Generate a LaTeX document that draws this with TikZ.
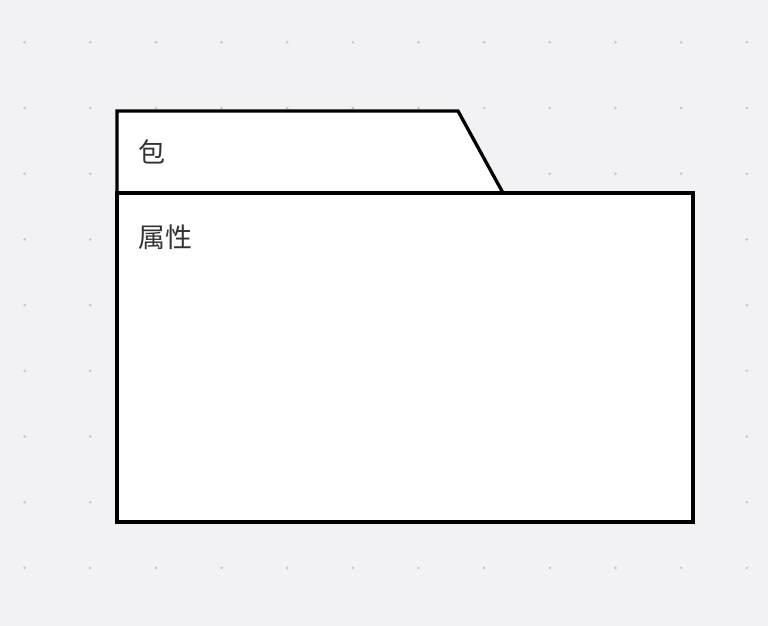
\documentclass[tikz,border=0pt]{standalone}
\usepackage{fontspec}
\newfontfamily\cjk{Noto Sans CJK SC}
\usetikzlibrary{calc}
\definecolor{bgcol}{HTML}{F2F2F4}
\definecolor{dotcol}{HTML}{C4C4C8}
\definecolor{txtcol}{HTML}{333333}
\tikzset{
  pkgline/.style={draw=black,line width=3.3pt,fill=white,line join=miter},
  pkglabel/.style={anchor=west,inner sep=0pt,text=txtcol,font=\cjk\fontsize{27pt}{31pt}\selectfont},
}
\begin{document}
\begin{tikzpicture}[x=1pt,y=-1pt]%
\fill[bgcol] (0,0) rectangle (768,626);%
\useasboundingbox (0,0) rectangle (768,626);%
% grid dots
\foreach \i in {0,...,11}{%
\foreach \j in {0,...,8}{%
\fill[dotcol] ($ (24.6,42.3) + (65.65*\i,65.7*\j) $) circle (1.4);%
}}%
% package shape
\coordinate (tabtl) at (117,111);%
\coordinate (tabtr) at (458,111);%
\coordinate (tabbr) at (503,193);%
\coordinate (bodytl) at (117,193);%
\coordinate (bodybr) at (693,522);%
\draw[pkgline] (bodytl) -- (tabtl) -- (tabtr) -- (tabbr) -- cycle;%
\draw[pkgline] (bodytl) rectangle (bodybr);%
\node[pkglabel] (name) at (138,152) {包};%
\node[pkglabel] (attrs) at (138,237) {属性};%
\end{tikzpicture}
\end{document}
